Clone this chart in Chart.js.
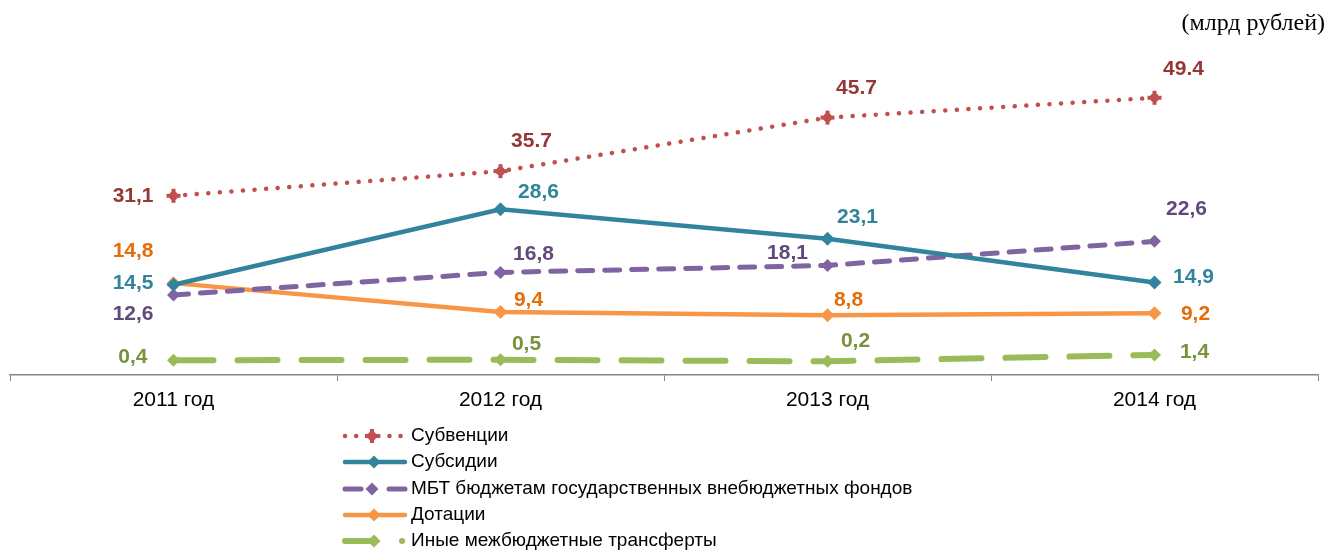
<!DOCTYPE html>
<html>
<head>
<meta charset="utf-8">
<script src="https://cdn.jsdelivr.net/npm/chart.js@4"></script>
<style>
  html, body { margin: 0; padding: 0; background: #ffffff; }
  #wrap { width: 1342px; height: 550px; position: relative; }
</style>
</head>
<body>
<div id="wrap"><canvas id="c" width="1342" height="550"></canvas></div>
<script>
// ---- data ----
const categories = ['2011 год', '2012 год', '2013 год', '2014 год'];
const subventions = [31.1, 35.7, 45.7, 49.4];
const subsidies = [14.5, 28.6, 23.1, 14.9];
const mbtFunds = [12.6, 16.8, 18.1, 22.6];
const grants = [14.8, 9.4, 8.8, 9.2];
const otherTransfers = [0.4, 0.5, 0.2, 1.4];
const seriesNames = [
  'Субвенции',
  'Субсидии',
  'МБТ бюджетам государственных внебюджетных фондов',
  'Дотации',
  'Иные межбюджетные трансферты'
];
const unitLabel = '(млрд рублей)';
// decimal separator used for each printed label of "Субвенции" (as in the source)
const subventionSeparators = [',', '.', '.', '.'];

// ---- label placement (style, not data) ----
const labelPlacement = [
  [{a:'right',dx:-20,dy:0},{a:'center',dx:31,dy:-30},{a:'center',dx:29,dy:-29},{a:'center',dx:29,dy:-29}],
  [{a:'right',dx:-20,dy:-2},{a:'center',dx:38,dy:-17},{a:'center',dx:30,dy:-21},{a:'center',dx:39,dy:-5}],
  [{a:'right',dx:-20,dy:19},{a:'center',dx:33,dy:-18},{a:'center',dx:-40,dy:-12},{a:'center',dx:32,dy:-32}],
  [{a:'right',dx:-20,dy:-32},{a:'center',dx:28,dy:-12},{a:'center',dx:21,dy:-15},{a:'center',dx:41,dy:1}],
  [{a:'right',dx:-26,dy:-3},{a:'center',dx:26,dy:-16},{a:'center',dx:28,dy:-20},{a:'center',dx:40,dy:-3}]
];
const labelColors = ['#953735', '#31849B', '#604A7B', '#E46C0A', '#77933C'];

function fmt(v, sep) {
  return v.toFixed(1).replace('.', sep || ',');
}

const datasets = [
  {
    label: seriesNames[0], data: subventions,
    borderColor: '#C0504D', backgroundColor: '#C0504D',
    borderWidth: 4.5, borderDash: [0.1, 11.5], borderCapStyle: 'round',
    pointStyle: 'crossRot', pointRadius: 0, pointBorderWidth: 0,
    customMarker: 'plus', seps: subventionSeparators
  },
  {
    label: seriesNames[1], data: subsidies,
    borderColor: '#31849B', backgroundColor: '#31849B',
    borderWidth: 4.5, borderDash: [],
    pointStyle: 'rectRot', pointRadius: 7, pointBorderWidth: 0
  },
  {
    label: seriesNames[2], data: mbtFunds,
    borderColor: '#8064A2', backgroundColor: '#8064A2',
    borderWidth: 5, borderDash: [15, 12], borderCapStyle: 'round',
    pointStyle: 'rectRot', pointRadius: 6.5, pointBorderWidth: 0
  },
  {
    label: seriesNames[3], data: grants,
    borderColor: '#F79646', backgroundColor: '#F79646',
    borderWidth: 4.5, borderDash: [],
    pointStyle: 'rectRot', pointRadius: 7, pointBorderWidth: 0
  },
  {
    label: seriesNames[4], data: otherTransfers,
    borderColor: '#9BBB59', backgroundColor: '#9BBB59',
    borderWidth: 6, borderDash: [40, 24], borderCapStyle: 'round',
    pointStyle: 'rectRot', pointRadius: 6.5, pointBorderWidth: 0
  }
];

function drawPlus(ctx, x, y, color) {
  ctx.save();
  ctx.fillStyle = color;
  ctx.beginPath(); ctx.arc(x, y, 4.5, 0, Math.PI * 2); ctx.fill();
  ctx.fillRect(x - 7, y - 2, 14, 4);
  ctx.fillRect(x - 2, y - 7, 4, 14);
  ctx.restore();
}
function drawDiamond(ctx, x, y, r, color) {
  ctx.save();
  ctx.fillStyle = color;
  ctx.beginPath();
  ctx.moveTo(x, y - r); ctx.lineTo(x + r, y); ctx.lineTo(x, y + r); ctx.lineTo(x - r, y);
  ctx.closePath(); ctx.fill();
  ctx.restore();
}

const overlayPlugin = {
  id: 'overlay',
  afterDatasetsDraw(chart) {
    const ctx = chart.ctx;
    chart.data.datasets.forEach((ds, di) => {
      const meta = chart.getDatasetMeta(di);
      meta.data.forEach((pt, i) => {
        if (ds.customMarker === 'plus') drawPlus(ctx, pt.x, pt.y, ds.borderColor);
        const p = labelPlacement[di][i];
        const sep = ds.seps ? ds.seps[i] : ',';
        ctx.save();
        ctx.font = 'bold 21px "Liberation Sans", Arial, sans-serif';
        ctx.fillStyle = labelColors[di];
        ctx.textAlign = p.a;
        ctx.textBaseline = 'middle';
        ctx.fillText(fmt(ds.data[i], sep), pt.x + p.dx, pt.y + p.dy);
        ctx.restore();
      });
    });
  },
  afterDraw(chart) {
    const ctx = chart.ctx;
    // unit label
    ctx.save();
    ctx.font = '24px "Liberation Serif", "Times New Roman", serif';
    ctx.fillStyle = '#000000';
    ctx.textAlign = 'right';
    ctx.textBaseline = 'middle';
    ctx.fillText(unitLabel, 1325, 24);
    ctx.restore();
    // legend
    const x0 = 345, x1 = 405, xm = 374;
    const rowY = [436, 462, 489, 515, 541];
    chart.data.datasets.forEach((ds, di) => {
      const y = rowY[di];
      ctx.save();
      ctx.strokeStyle = ds.borderColor;
      ctx.lineWidth = ds.borderWidth;
      ctx.lineCap = ds.borderCapStyle || 'butt';
      if (di === 0) {
        ctx.setLineDash([0.1, 11]);
        ctx.beginPath(); ctx.moveTo(x0, y); ctx.lineTo(x1, y); ctx.stroke();
        ctx.setLineDash([]);
        drawPlus(ctx, xm - 2, y, ds.borderColor);
      } else if (di === 4) {
        ctx.lineCap = 'round';
        ctx.beginPath(); ctx.moveTo(x0, y); ctx.lineTo(xm, y); ctx.stroke();
        ctx.beginPath(); ctx.moveTo(x1 - 3, y); ctx.lineTo(x1 - 2.9, y); ctx.stroke();
        drawDiamond(ctx, xm, y, 6.5, ds.borderColor);
      } else {
        if (di === 2) {
          ctx.lineCap = 'round';
          ctx.setLineDash([]);
          ctx.beginPath(); ctx.moveTo(x0, y); ctx.lineTo(x0 + 16, y); ctx.stroke();
          ctx.beginPath(); ctx.moveTo(x1 - 16, y); ctx.lineTo(x1, y); ctx.stroke();
        } else {
          ctx.lineCap = 'round';
          ctx.beginPath(); ctx.moveTo(x0, y); ctx.lineTo(x1, y); ctx.stroke();
        }
        drawDiamond(ctx, xm - (di === 2 ? 2 : 0), y, 6.5, ds.borderColor);
      }
      ctx.restore();
      ctx.save();
      ctx.font = '19px "Liberation Sans", Arial, sans-serif';
      ctx.fillStyle = '#000000';
      ctx.textAlign = 'left';
      ctx.textBaseline = 'middle';
      ctx.fillText(ds.label, 411, y);
      ctx.restore();
    });
  }
};

new Chart(document.getElementById('c'), {
  type: 'line',
  data: { labels: categories, datasets: datasets },
  options: {
    responsive: false,
    animation: false,
    events: [],
    layout: { padding: { left: 10, right: 24, top: 41, bottom: 135 } },
    plugins: { legend: { display: false }, tooltip: { enabled: false } },
    elements: { line: { tension: 0 } },
    scales: {
      x: {
        offset: true,
        grid: { offset: true, drawOnChartArea: false, drawTicks: true, tickLength: 6, color: '#868686' },
        border: { display: true, color: '#868686', width: 1.5 },
        ticks: { color: '#000000', padding: 7, font: { family: '"Liberation Sans", Arial, sans-serif', size: 21 } },
        afterFit: (s) => { s.height = 40; }
      },
      y: {
        display: false,
        min: -2.35,
        max: 60
      }
    }
  },
  plugins: [overlayPlugin]
});
</script>
</body>
</html>
